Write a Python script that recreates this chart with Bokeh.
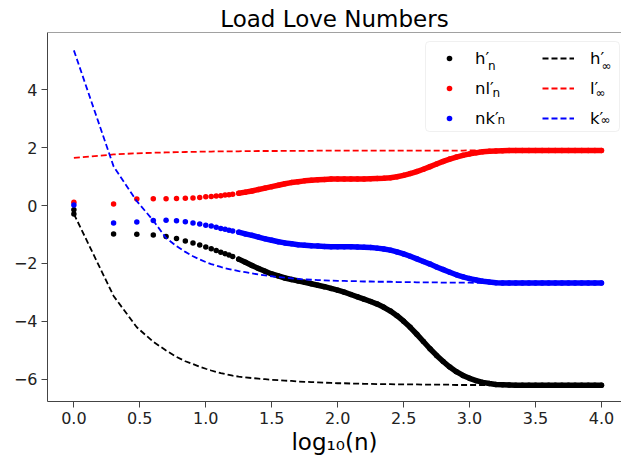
import numpy as np
from bokeh.plotting import figure
from bokeh.models import Range1d, FixedTicker, Span, Legend, LegendItem, Label, BoxAnnotation
from bokeh.core.properties import value
from bokeh.embed import file_html
from bokeh.resources import INLINE

# ---------------- data ----------------
# discrete degrees n (plotted at log10(n))
N_DEG = [1, 2, 3, 4, 5, 6, 7, 8, 9, 10, 11, 12, 13, 14, 15, 16]
# h'_n has two values at n = 1
N_DEG_H = [1, 1, 2, 3, 4, 5, 6, 7, 8, 9, 10, 11, 12, 13, 14, 15, 16]

H_N = [-0.15, -0.29, -0.98, -0.99, -1.02, -1.07, -1.14, -1.22, -1.29, -1.36,
       -1.43, -1.49, -1.55, -1.61, -1.66, -1.71, -1.76]
NL_N = [0.11, 0.05, 0.22, 0.23, 0.23, 0.24, 0.25, 0.26, 0.28, 0.30,
        0.31, 0.33, 0.34, 0.36, 0.37, 0.39]
NK_N = [0.02, -0.60, -0.57, -0.52, -0.51, -0.53, -0.56, -0.60, -0.64, -0.68,
        -0.71, -0.75, -0.79, -0.82, -0.85, -0.88]

H_INF = [-0.29, -3.12, -4.20, -4.70, -5.00, -5.22, -5.37, -5.47, -5.56, -5.63,
         -5.69, -5.74, -5.78, -5.81, -5.84, -5.87]
L_INF = [1.64, 1.76, 1.80, 1.82, 1.83, 1.84, 1.845, 1.85, 1.855, 1.86,
         1.86, 1.865, 1.865, 1.87, 1.87, 1.87]
K_INF = [5.35, 1.35, 0.15, -0.52, -1.12, -1.40, -1.60, -1.75, -1.86, -1.95,
         -2.02, -2.07, -2.12, -2.16, -2.19, -2.22]

# dense part of the degree range, given directly as log10(n)
LOGN_DENSE = [1.25, 1.30, 1.35, 1.40, 1.45, 1.50, 1.55, 1.60, 1.65, 1.70,
              1.75, 1.80, 1.85, 1.90, 1.95, 2.00, 2.05, 2.10, 2.15, 2.20,
              2.25, 2.30, 2.35, 2.40, 2.45, 2.50, 2.55, 2.60, 2.65, 2.70,
              2.75, 2.80, 2.85, 2.90, 2.95, 3.00, 3.05, 3.10, 3.15, 3.20,
              3.25, 3.30, 3.35, 3.40, 3.45, 3.50, 3.55, 3.60, 3.65, 3.70,
              3.75, 3.80, 3.85, 3.90, 3.95, 4.00]

H_N_DENSE = [-1.85, -1.96, -2.07, -2.17, -2.27, -2.36, -2.43, -2.50, -2.55, -2.60,
             -2.65, -2.70, -2.75, -2.80, -2.86, -2.92, -2.99, -3.07, -3.15, -3.23,
             -3.31, -3.40, -3.51, -3.64, -3.80, -3.99, -4.20, -4.44, -4.69, -4.94,
             -5.17, -5.38, -5.57, -5.73, -5.86, -5.96, -6.04, -6.10, -6.14, -6.17,
             -6.18, -6.19, -6.20, -6.20, -6.20, -6.20, -6.20, -6.20, -6.20, -6.20,
             -6.20, -6.20, -6.20, -6.20, -6.20, -6.20]
NL_N_DENSE = [0.42, 0.46, 0.50, 0.55, 0.60, 0.65, 0.70, 0.75, 0.79, 0.82,
              0.85, 0.87, 0.89, 0.90, 0.91, 0.91, 0.91, 0.91, 0.91, 0.91,
              0.92, 0.93, 0.94, 0.96, 0.99, 1.04, 1.10, 1.17, 1.25, 1.34,
              1.43, 1.52, 1.60, 1.67, 1.73, 1.78, 1.82, 1.85, 1.87, 1.88,
              1.89, 1.90, 1.90, 1.90, 1.90, 1.90, 1.90, 1.90, 1.90, 1.90,
              1.90, 1.90, 1.90, 1.90, 1.90, 1.90]
NK_N_DENSE = [-0.92, -0.98, -1.03, -1.09, -1.15, -1.20, -1.25, -1.29, -1.32, -1.35,
              -1.37, -1.39, -1.40, -1.41, -1.42, -1.42, -1.42, -1.42, -1.43, -1.44,
              -1.45, -1.47, -1.50, -1.54, -1.60, -1.67, -1.75, -1.84, -1.93, -2.02,
              -2.12, -2.21, -2.30, -2.39, -2.46, -2.52, -2.57, -2.61, -2.64, -2.66,
              -2.67, -2.67, -2.67, -2.67, -2.67, -2.67, -2.67, -2.67, -2.67, -2.67,
              -2.67, -2.67, -2.67, -2.67, -2.67, -2.67]

H_INF_DENSE = [-5.90, -5.93, -5.95, -5.97, -5.99, -6.01, -6.02, -6.04, -6.05, -6.07,
               -6.08, -6.09, -6.10, -6.11, -6.12, -6.13, -6.13, -6.14, -6.14, -6.15,
               -6.15, -6.16, -6.16, -6.16, -6.17, -6.17, -6.17, -6.17, -6.18, -6.18,
               -6.18, -6.18, -6.18, -6.19, -6.19, -6.19, -6.19, -6.19, -6.19, -6.19,
               -6.19, -6.19, -6.20, -6.20, -6.20, -6.20, -6.20, -6.20, -6.20, -6.20,
               -6.20, -6.20, -6.20, -6.20, -6.20, -6.20]
L_INF_DENSE = [1.870, 1.875, 1.875, 1.880, 1.880, 1.880, 1.880, 1.885, 1.885, 1.885,
               1.885, 1.885, 1.890, 1.890, 1.890, 1.890, 1.890, 1.890, 1.890, 1.890,
               1.890, 1.890, 1.890, 1.890, 1.895, 1.895, 1.895, 1.895, 1.895, 1.895,
               1.895, 1.895, 1.895, 1.895, 1.895, 1.900, 1.900, 1.900, 1.900, 1.900,
               1.900, 1.900, 1.900, 1.900, 1.900, 1.900, 1.900, 1.900, 1.900, 1.900,
               1.900, 1.900, 1.900, 1.900, 1.900, 1.900]
K_INF_DENSE = [-2.26, -2.30, -2.34, -2.38, -2.41, -2.44, -2.47, -2.49, -2.51, -2.53,
               -2.55, -2.56, -2.57, -2.58, -2.59, -2.60, -2.60, -2.61, -2.61, -2.62,
               -2.62, -2.63, -2.63, -2.63, -2.64, -2.64, -2.64, -2.65, -2.65, -2.65,
               -2.65, -2.66, -2.66, -2.66, -2.66, -2.66, -2.67, -2.67, -2.67, -2.67,
               -2.67, -2.67, -2.67, -2.67, -2.67, -2.67, -2.67, -2.67, -2.67, -2.67,
               -2.67, -2.67, -2.67, -2.67, -2.67, -2.67]

X_TICKS = [0.0, 0.5, 1.0, 1.5, 2.0, 2.5, 3.0, 3.5, 4.0]
X_TICK_LABELS = ["0.0", "0.5", "1.0", "1.5", "2.0", "2.5", "3.0", "3.5", "4.0"]
Y_TICKS = [-6, -4, -2, 0, 2, 4]
Y_TICK_LABELS = ["\u22126", "\u22124", "\u22122", "0", "2", "4"]

TITLE = "Load Love Numbers"
X_LABEL = "log\u2081\u2080(n)"

# ---------------- figure ----------------
FONT = "DejaVu Sans"
W, H = 621, 464
FRAME_L, FRAME_T, FRAME_B = 47, 32, 401
X0, X1 = -0.2, 4.152
Y0, Y1 = -6.759, 5.966

p = figure(width=W, height=H, output_backend="svg", toolbar_location=None,
           x_range=Range1d(X0, X1), y_range=Range1d(Y0, Y1),
           min_border_left=FRAME_L, min_border_right=0,
           min_border_top=FRAME_T, min_border_bottom=H - FRAME_B,
           title=TITLE)
p.outline_line_color = None
p.xgrid.visible = False
p.ygrid.visible = False
p.background_fill_color = "white"
p.border_fill_color = "white"

p.title.text_font = FONT
p.title.text_font_size = "23px"
p.title.text_font_style = "normal"
p.title.text_color = "black"
p.title.align = "center"
p.title.standoff = 2

AX_COLOR = "#444444"
for ax in (p.xaxis[0], p.yaxis[0]):
    ax.axis_line_color = AX_COLOR
    ax.axis_line_width = 1
    ax.major_tick_line_color = AX_COLOR
    ax.major_tick_out = 6
    ax.major_tick_in = 0
    ax.minor_tick_line_color = None
    ax.major_label_text_font = FONT
    ax.major_label_text_font_size = "16px"
    ax.major_label_text_color = "#222222"
    ax.major_label_standoff = 4

p.xaxis.ticker = FixedTicker(ticks=X_TICKS)
p.xaxis.major_label_overrides = dict(zip(X_TICKS, X_TICK_LABELS))
p.yaxis.ticker = FixedTicker(ticks=Y_TICKS)
p.yaxis.major_label_overrides = dict(zip(Y_TICKS, Y_TICK_LABELS))
p.xaxis.axis_label = X_LABEL
p.xaxis.axis_label_text_font = FONT
p.xaxis.axis_label_text_font_size = "23px"
p.xaxis.axis_label_text_font_style = "normal"
p.xaxis.axis_label_text_color = "black"
p.xaxis.axis_label_standoff = 2

# top spine
p.add_layout(Span(location=Y1, dimension="width", line_color=AX_COLOR, line_width=1))

x_disc = list(np.log10(N_DEG))
x_disc_h = list(np.log10(N_DEG_H))

DOT = 5.5
series = [
    ("black", x_disc_h, H_N, H_N_DENSE),
    ("red", x_disc, NL_N, NL_N_DENSE),
    ("blue", x_disc, NK_N, NK_N_DENSE),
]
dot_renderers = []
for color, xd, yd, ydense in series:
    r = p.scatter(xd, yd, size=DOT, color=color, line_color=None)
    p.line(LOGN_DENSE, ydense, line_width=DOT, color=color,
           line_cap="round", line_join="round")
    p.scatter(LOGN_DENSE, ydense, size=DOT, color=color, line_color=None)
    dot_renderers.append(r)

dash_renderers = []
for color, yd, ydense in [("black", H_INF, H_INF_DENSE),
                          ("red", L_INF, L_INF_DENSE),
                          ("blue", K_INF, K_INF_DENSE)]:
    r = p.line(x_disc + LOGN_DENSE, yd + ydense, color=color, line_width=1.8,
               line_dash="6 3")
    dash_renderers.append(r)

# ---------------- legend ----------------
# frame (canvas px -> frame-relative screen units)
LG_L, LG_R, LG_T, LG_B = 425, 619, 41, 131
p.add_layout(BoxAnnotation(left=LG_L - FRAME_L, right=LG_R - FRAME_L,
                           top=FRAME_B - LG_T, bottom=FRAME_B - LG_B,
                           left_units="screen", right_units="screen",
                           top_units="screen", bottom_units="screen",
                           fill_color="white", fill_alpha=0.8,
                           line_color="#cccccc", line_width=1, border_radius=4,
                           level="annotation"))

GH = 14
ROW_H = 16
SP = 11
ROW0 = 58.3
legend_top = ROW0 - ROW_H / 2
legend_bottom = legend_top + 3 * ROW_H + 2 * SP + 7.3

COL1_GLYPH_L, COL2_GLYPH_L = 433, 542
COL1_STANDOFF, COL2_STANDOFF = 10, 16
GW = 32
LEG_FONT = 16.5

bases1 = ["h\u2032", "nl\u2032", "nk\u2032"]
bases2 = ["h\u2032", "l\u2032", "k\u2032"]
# advance widths of the letters before the prime (DejaVu Sans, em)
adv1 = [0.634, 0.634 + 0.278, 0.634 + 0.579]
adv2 = [0.634, 0.278, 0.579]

for glyph_l, standoff, bases, advs, rends, sub, sub_dx in [
        (COL1_GLYPH_L, COL1_STANDOFF, bases1, adv1, dot_renderers, "n", 2.0),
        (COL2_GLYPH_L, COL2_STANDOFF, bases2, adv2, dash_renderers, "\u221e", 0.5)]:
    items = [LegendItem(label=value(b), renderers=[r]) for b, r in zip(bases, rends)]
    lg = Legend(items=items, location=(glyph_l - FRAME_L, FRAME_B - legend_bottom),
                orientation="vertical", glyph_width=GW, glyph_height=GH,
                label_height=ROW_H, spacing=SP, label_standoff=standoff,
                padding=0, margin=0, border_line_color=None,
                background_fill_alpha=0, label_text_font=FONT,
                label_text_font_size=f"{LEG_FONT}px", label_text_color="black")
    p.add_layout(lg, "center")
    text_x = glyph_l + GW + standoff
    for i, a in enumerate(advs):
        row_c = ROW0 + i * (ROW_H + SP)
        p.add_layout(Label(x=text_x + a * LEG_FONT - FRAME_L + sub_dx,
                           y=FRAME_B - (row_c + 7.4),
                           x_units="screen", y_units="screen", text=sub,
                           text_font=FONT, text_font_size="12px",
                           text_color="black", text_baseline="alphabetic",
                           text_align="left"))

open("out.html", "w").write(file_html(p, INLINE))
